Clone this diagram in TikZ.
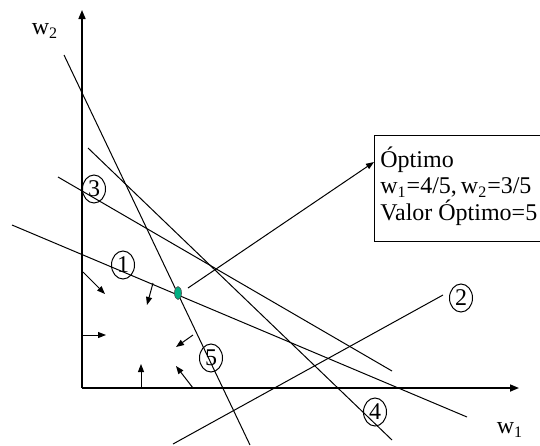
\documentclass[tikz,border=0pt]{standalone}
\usepackage{fontspec}
\setmainfont{Liberation Serif}
\usetikzlibrary{arrows.meta,shapes.geometric}
\definecolor{otimo}{RGB}{0,175,130}
\tikzset{
  reta/.style={line width=0.5pt},
  eixo/.style={line width=0.8pt,-{Triangle[length=4.5pt,width=3.5pt]}},
  seta/.style={line width=0.5pt,-{Triangle[length=4pt,width=3pt]}},
  rotulo/.style={draw,ellipse,line width=0.5pt,inner sep=0pt,minimum width=11.5pt,minimum height=14pt},
}
\begin{document}
\begin{tikzpicture}[x=0.5pt,y=-0.5pt,font=\fontsize{12}{13.3}\selectfont]
\useasboundingbox (0,0) rectangle (540,445);
% eixos
\coordinate (O) at (82,388);
\coordinate (ytop) at (82,10);
\coordinate (xend) at (519,388);
\draw[eixo] (O) -- (ytop);
\draw[eixo] (O) -- (xend);
\node (w2) at (45,31) {w\textsubscript{2}};
\node (w1) at (510,430) {w\textsubscript{1}};
% restricoes
\coordinate (r1a) at (12,225);
\coordinate (r1b) at (467,417);
\coordinate (r2a) at (173,444);
\coordinate (r2b) at (443,295);
\coordinate (r3a) at (58,177);
\coordinate (r3b) at (392,371);
\coordinate (r4a) at (88,148);
\coordinate (r4b) at (392,440);
\coordinate (r5a) at (64,55);
\coordinate (r5b) at (250,445);
\draw[reta] (r1a) -- (r1b);
\draw[reta] (r2a) -- (r2b);
\draw[reta] (r3a) -- (r3b);
\draw[reta] (r4a) -- (r4b);
\draw[reta] (r5a) -- (r5b);
\node[rotulo] (c1) at (123,265) {1};
\node[rotulo] (c2) at (461,298) {2};
\node[rotulo] (c3) at (94,189) {3};
\node[rotulo] (c4) at (375,412) {4};
\node[rotulo] (c5) at (211,358) {5};
% direcoes factiveis
\coordinate (s1a) at (83,272);  \coordinate (s1b) at (105,294);
\coordinate (s2a) at (153,283); \coordinate (s2b) at (147,305);
\coordinate (s3a) at (82,335);  \coordinate (s3b) at (106,335);
\coordinate (s4a) at (193,335); \coordinate (s4b) at (176,347);
\coordinate (s5a) at (141,388); \coordinate (s5b) at (141,364);
\coordinate (s6a) at (193,388); \coordinate (s6b) at (176,366);
\draw[seta] (s1a) -- (s1b);
\draw[seta] (s2a) -- (s2b);
\draw[seta] (s3a) -- (s3b);
\draw[seta] (s4a) -- (s4b);
\draw[seta] (s5a) -- (s5b);
\draw[seta] (s6a) -- (s6b);
% ponto otimo
\node[ellipse,draw=black!70,fill=otimo,line width=0.3pt,inner sep=0pt,
      minimum width=3.5pt,minimum height=6.5pt] (opt) at (178,293) {};
\node[draw,line width=0.5pt,anchor=north west,inner sep=0pt,
      minimum width=83pt,minimum height=53pt] (caixa) at (374,135) {};
\node[anchor=north west,align=left,inner sep=0pt] (texto) at (380,146)
  {Óptimo\\w\textsubscript{1}=4/5,\,w\textsubscript{2}=3/5\\Valor Óptimo=5};
\coordinate (ini) at (188,288);
\draw[seta] (ini) -- (caixa.west |- 0,162);
\end{tikzpicture}
\end{document}
